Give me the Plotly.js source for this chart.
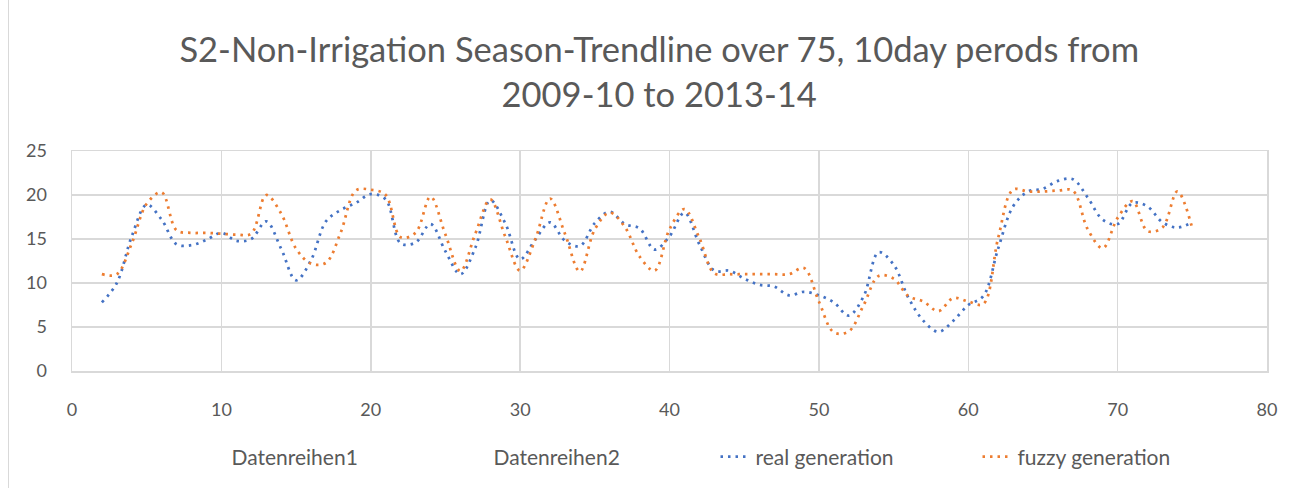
<!DOCTYPE html>
<html>
<head>
<meta charset="utf-8">
<script src="https://cdn.plot.ly/plotly-3.0.1.min.js"></script>
<style>
  html, body { margin: 0; padding: 0; background: #fff; }
  #wrap { position: relative; width: 1308px; height: 488px; }
  #chart { position: absolute; left: 0; top: 0; width: 1308px; height: 488px; }
  #edge { position: absolute; left: 8px; top: 0; width: 0; height: 488px; border-left: 1.5px solid #d9d9d9; }
</style>
</head>
<body>
<div id="wrap"><div id="chart"></div><div id="edge"></div></div>
<script>
// ten-day period index
const periods = [2,3,4,5,6,7,8,9,10,11,12,13,14,15,16,17,18,19,20,21,22,23,24,25,26,27,28,29,30,31,32,33,34,35,36,37,38,39,40,41,42,43,44,45,46,47,48,49,50,51,52,53,54,55,56,57,58,59,60,61,62,63,64,65,66,67,68,69,70,71,72,73,74,75];

const realGeneration = [7.8,10.0,15.3,18.9,17.2,14.4,14.3,14.9,15.7,14.8,15.0,17.0,13.9,10.3,12.6,17.0,18.3,19.1,20.1,19.5,14.5,14.6,16.7,13.6,11.0,14.0,19.4,16.8,12.7,14.9,16.9,14.8,14.2,16.8,18.1,16.7,16.2,13.8,15.3,18.0,14.4,11.4,11.4,10.5,9.8,9.6,8.6,9.0,8.6,7.8,6.3,8.5,13.5,12.1,8.3,5.7,4.45,5.7,7.5,8.5,13.9,18.7,20.4,20.7,21.6,21.8,19.7,17.2,16.7,19.1,18.7,16.9,16.3,16.9];

const fuzzyGeneration = [11.0,11.0,14.5,19.0,20.3,16.0,15.7,15.7,15.6,15.5,15.6,20.0,17.9,13.9,12.2,12.3,15.8,20.5,20.6,20.0,15.2,15.7,19.8,15.5,11.35,15.6,19.5,15.3,11.4,14.9,19.6,15.6,11.3,16.1,18.0,16.4,13.0,11.4,16.1,18.4,15.1,11.1,11.0,11.0,11.0,11.0,11.0,11.7,7.9,4.4,4.5,7.5,10.8,10.5,8.5,7.9,6.8,8.3,7.9,7.6,15.1,20.6,20.4,20.4,20.5,20.5,16.1,13.95,17.4,19.3,15.9,16.3,20.4,16.2];

const seriesNames = ['Datenreihen1', 'Datenreihen2', 'real generation', 'fuzzy generation'];
const xTicks = [0,10,20,30,40,50,60,70,80];
const yTicks = [0,5,10,15,20,25];
const titleText = 'S2-Non-Irrigation Season-Trendline over 75, 10day perods from<br>2009-10 to 2013-14';

const FONT = 'Lato, "Open Sans", sans-serif';
const TXT = '#595959';
const GRID = '#d9d9d9';

const traces = [
  { x: [null], y: [null], name: seriesNames[0], type: 'scatter', mode: 'lines',
    line: { color: '#ffffff', width: 2 } },
  { x: [null], y: [null], name: seriesNames[1], type: 'scatter', mode: 'lines',
    line: { color: '#ffffff', width: 2 } },
  { x: periods, y: realGeneration, name: seriesNames[2], type: 'scatter', mode: 'lines',
    line: { color: '#4472C4', width: 2.75, dash: '2.5px,5px', shape: 'spline', smoothing: 1 } },
  { x: periods, y: fuzzyGeneration, name: seriesNames[3], type: 'scatter', mode: 'lines',
    line: { color: '#ED7D31', width: 2.75, dash: '2.5px,5px', shape: 'spline', smoothing: 1 } }
];

const layout = {
  width: 1308, height: 488,
  margin: { l: 72, r: 41, t: 151, b: 116 },
  paper_bgcolor: 'rgba(0,0,0,0)', plot_bgcolor: '#ffffff',
  font: { family: FONT, color: TXT, size: 18 },
  title: { text: titleText, x: 0.504, xref: 'container', xanchor: 'center',
           y: 0.872, yref: 'container', yanchor: 'middle',
           font: { family: FONT, size: 34.5, color: TXT } },
  xaxis: { range: [0, 80], tickvals: xTicks, ticktext: xTicks.map(String),
           showgrid: true, gridcolor: GRID, gridwidth: 1.5,
           showline: true, linecolor: GRID, linewidth: 1.5, mirror: true,
           zeroline: false, ticks: 'outside', ticklen: 22, tickcolor: 'rgba(0,0,0,0)',
           tickfont: { family: FONT, size: 18, color: TXT }, fixedrange: true },
  yaxis: { range: [0, 25], tickvals: yTicks, ticktext: yTicks.map(String),
           showgrid: true, gridcolor: GRID, gridwidth: 1.5,
           showline: true, linecolor: GRID, linewidth: 1.5, mirror: true,
           zeroline: false, ticks: 'outside', ticklen: 20, tickcolor: 'rgba(0,0,0,0)',
           tickfont: { family: FONT, size: 18, color: TXT }, fixedrange: true },
  showlegend: true,
  legend: { orientation: 'h', x: 0.1, xanchor: 'left', y: -0.385, yanchor: 'middle',
            entrywidth: 217, entrywidthmode: 'pixels',
            font: { family: FONT, size: 21, color: TXT }, bgcolor: 'rgba(0,0,0,0)' }
};

Plotly.newPlot('chart', traces, layout, { displayModeBar: false, staticPlot: true });
</script>
</body>
</html>
